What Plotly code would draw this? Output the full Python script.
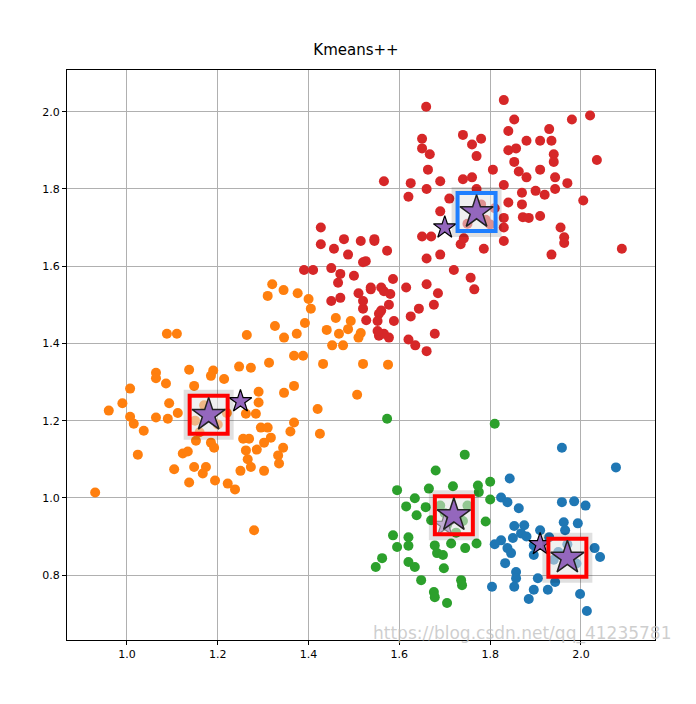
import plotly.graph_objects as go

# cluster points (x, y)
red_x = [1.659, 1.83, 1.853, 1.98, 2.02, 1.65, 1.74, 1.78, 1.84, 1.88, 1.91, 1.93, 1.935, 1.65, 1.667,
         1.76, 1.77, 1.84, 1.857, 1.94, 1.94, 2.035, 1.853, 1.806, 1.91, 1.663, 1.69, 1.74, 1.76, 1.863,
         1.88, 1.943, 1.97, 1.566, 1.625, 1.62, 1.66, 1.77, 1.83, 1.87, 1.90, 1.92, 1.943, 2.005, 1.71,
         1.84, 1.87, 1.83, 1.83, 1.872, 1.885, 1.91, 1.955, 1.963, 1.963, 2.09, 1.935, 1.83, 1.786, 1.735,
         1.742, 1.69, 1.65, 1.67, 1.69, 1.66, 1.72, 1.757, 1.765, 1.80, 1.545, 1.573, 1.526, 1.586, 1.615,
         1.66, 1.685, 1.643, 1.676, 1.625, 1.678, 1.62, 1.635, 1.66, 1.537, 1.56, 1.58, 1.52, 1.555,
         1.577, 1.588, 1.555, 1.577, 1.427, 1.427, 1.478, 1.515, 1.545, 1.456, 1.487, 1.39, 1.41, 1.45,
         1.47, 1.465, 1.50, 1.52, 1.51, 1.537, 1.566, 1.45, 1.47, 1.52, 1.56, 1.527, 1.552, 1.566, 1.552,
         1.79, 1.81, 1.75, 1.78]
red_y = [2.013, 2.03, 1.98, 1.98, 1.99, 1.93, 1.94, 1.93, 1.95, 1.925, 1.925, 1.955, 1.925, 1.905, 1.89,
         1.915, 1.885, 1.90, 1.905, 1.89, 1.87, 1.875, 1.87, 1.85, 1.85, 1.85, 1.82, 1.825, 1.83, 1.845,
         1.83, 1.83, 1.815, 1.82, 1.815, 1.78, 1.80, 1.80, 1.81, 1.79, 1.795, 1.785, 1.80, 1.77, 1.775,
         1.765, 1.76, 1.725, 1.70, 1.727, 1.725, 1.73, 1.70, 1.675, 1.66, 1.645, 1.63, 1.665, 1.645, 1.657,
         1.672, 1.742, 1.677, 1.677, 1.63, 1.62, 1.59, 1.57, 1.54, 1.708, 1.665, 1.64, 1.613, 1.567, 1.545,
         1.553, 1.53, 1.49, 1.50, 1.47, 1.425, 1.41, 1.395, 1.38, 1.545, 1.545, 1.528, 1.49, 1.477,
         1.50, 1.458, 1.42, 1.415, 1.70, 1.657, 1.67, 1.665, 1.67, 1.645, 1.63, 1.59, 1.59, 1.595,
         1.58, 1.557, 1.575, 1.61, 1.53, 1.54, 1.535, 1.51, 1.518, 1.51, 1.485, 1.46, 1.458, 1.425, 1.432,
         1.72, 1.75, 1.71, 1.76]

orange_x = [1.32, 1.345, 1.31, 1.376, 1.40, 1.405, 1.326, 1.346, 1.374, 1.392, 1.44, 1.46, 1.493, 1.487,
            1.467, 1.515, 1.51, 1.452, 1.476, 1.52, 1.575, 1.432, 1.507, 1.088, 1.11, 1.264, 1.368, 1.388,
            1.313, 1.247, 1.273, 1.19, 1.137, 1.064, 1.064, 1.185, 1.214, 1.086, 1.148, 1.368, 1.346, 1.29,
            1.007, 1.29, 0.99, 1.093, 0.96, 1.42, 1.112, 1.007, 1.064, 1.09, 1.015, 1.262, 1.284, 1.368,
            1.037, 1.295, 1.31, 1.36, 1.425, 1.317, 1.302, 1.256, 1.269, 1.185, 1.192, 1.152, 1.344, 1.286,
            1.262, 1.333, 1.024, 1.123, 1.134, 1.266, 1.273, 1.335, 1.302, 1.25, 1.148, 1.174, 1.167, 1.104,
            1.137, 1.194, 1.222, 1.238, 0.93, 1.28, 1.15, 1.20, 1.17, 1.22, 1.16]
orange_y = [1.553, 1.538, 1.523, 1.53, 1.515, 1.49, 1.445, 1.415, 1.425, 1.453, 1.435, 1.466, 1.458, 1.437,
            1.425, 1.427, 1.415, 1.395, 1.395, 1.347, 1.345, 1.347, 1.267, 1.425, 1.425, 1.422, 1.368, 1.368,
            1.35, 1.34, 1.337, 1.33, 1.332, 1.324, 1.31, 1.316, 1.308, 1.296, 1.29, 1.29, 1.272, 1.275,
            1.283, 1.247, 1.245, 1.245, 1.226, 1.23, 1.22, 1.21, 1.208, 1.205, 1.192, 1.218, 1.218, 1.195,
            1.174, 1.182, 1.182, 1.172, 1.166, 1.156, 1.143, 1.153, 1.153, 1.143, 1.13, 1.148, 1.13, 1.125,
            1.123, 1.11, 1.112, 1.115, 1.12, 1.10, 1.08, 1.089, 1.07, 1.07, 1.08, 1.08, 1.063, 1.074,
            1.04, 1.045, 1.037, 1.022, 1.014, 0.916, 1.20, 1.19, 1.24, 1.22, 1.17]

green_x = [1.573, 1.81, 1.744, 1.68, 1.595, 1.665, 1.718, 1.773, 1.80, 1.775, 1.634, 1.615, 1.658, 1.69,
           1.80, 1.75, 1.638, 1.67, 1.79, 1.586, 1.62, 1.62, 1.595, 1.678, 1.714, 1.745, 1.77, 1.683,
           1.696, 1.562, 1.548, 1.62, 1.634, 1.698, 1.648, 1.736, 1.738, 1.676, 1.678, 1.705, 1.70, 1.74,
           1.705, 1.725]
green_y = [1.205, 1.192, 1.112, 1.071, 1.02, 1.024, 1.03, 1.032, 1.042, 1.015, 0.999, 0.978, 0.976, 0.98,
           0.996, 0.98, 0.955, 0.942, 0.939, 0.903, 0.898, 0.876, 0.873, 0.877, 0.882, 0.87, 0.882, 0.857,
           0.852, 0.844, 0.821, 0.834, 0.821, 0.818, 0.787, 0.787, 0.774, 0.756, 0.743, 0.728, 0.96, 0.94,
           0.93, 0.91]

blue_x = [1.958, 2.077, 1.843, 1.824, 1.838, 1.863, 1.958, 1.985, 2.01, 1.853, 1.875, 1.868, 1.85, 1.824,
          1.838, 1.846, 1.91, 1.93, 1.962, 1.965, 1.993, 1.896, 1.896, 2.03, 2.042, 1.833, 1.857, 1.857,
          1.905, 1.943, 1.804, 1.853, 1.896, 1.927, 1.885, 1.998, 2.013, 1.95, 1.99, 1.97, 1.94, 1.88, 1.81]
blue_y = [1.13, 1.079, 1.05, 1.001, 0.989, 0.973, 0.989, 0.991, 0.98, 0.927, 0.929, 0.908, 0.896, 0.89,
          0.87, 0.857, 0.916, 0.898, 0.937, 0.916, 0.934, 0.877, 0.852, 0.87, 0.847, 0.831, 0.808, 0.792,
          0.792, 0.782, 0.77, 0.77, 0.762, 0.762, 0.738, 0.751, 0.707, 0.86, 0.83, 0.88, 0.84, 0.90, 0.88]

# initial centers (small stars) and final centers (big stars in boxes)
init_x = [1.70, 1.25, 1.91, 1.70]
init_y = [1.70, 1.25, 0.88, 0.93]
final_x = [1.77, 1.18, 1.72, 1.97]
final_y = [1.74, 1.215, 0.955, 0.845]
box_colors = ["#1f7fff", "#ff0000", "#ff0000", "#ff0000"]

fig = go.Figure()
for xs, ys, c in [(blue_x, blue_y, "#1f77b4"), (orange_x, orange_y, "#ff7f0e"),
                  (green_x, green_y, "#2ca02c"), (red_x, red_y, "#d62728")]:
    fig.add_trace(go.Scatter(x=xs, y=ys, mode="markers",
                             marker=dict(size=10, color=c, line=dict(width=0))))

fig.add_trace(go.Scatter(x=init_x, y=init_y, mode="markers",
                         marker=dict(symbol="star", size=17, color="#9467bd",
                                     line=dict(width=1.2, color="black"))))
# soft shadow behind the boxes
fig.add_trace(go.Scatter(x=final_x, y=final_y, mode="markers",
                         marker=dict(symbol="square", size=50, color="rgba(0,0,0,0.12)",
                                     line=dict(width=0))))
fig.add_trace(go.Scatter(x=final_x, y=final_y, mode="markers",
                         marker=dict(symbol="square", size=38, color="rgba(255,255,255,0.5)",
                                     line=dict(width=4, color=box_colors))))
fig.add_trace(go.Scatter(x=final_x, y=final_y, mode="markers",
                         marker=dict(symbol="star", size=25, color="#9467bd",
                                     line=dict(width=1.5, color="#222"))))

fig.add_annotation(text="https://blog.csdn.net/qq_41235781", xref="paper", yref="paper",
                   x=1.03, y=-0.01, xanchor="right", yanchor="bottom", showarrow=False,
                   font=dict(size=17, color="rgba(190,190,190,0.75)"))

fig.update_layout(
    width=696, height=704,
    title=dict(text="Kmeans++", x=0.5, xanchor="center", yref="container", y=0.94,
               yanchor="middle", font=dict(size=15, color="black")),
    font=dict(family="DejaVu Sans", size=11, color="black"),
    showlegend=False,
    plot_bgcolor="white", paper_bgcolor="white",
    margin=dict(l=59, r=49, t=62, b=72),
)
axis_style = dict(showgrid=True, gridcolor="#b0b0b0", gridwidth=1, zeroline=False,
                  showline=True, linecolor="black", linewidth=1, mirror=True,
                  ticks="outside", ticklen=4, tickcolor="black")
fig.update_xaxes(range=[0.868, 2.163], tickvals=[1.0, 1.2, 1.4, 1.6, 1.8, 2.0],
                 tickformat=".1f", **axis_style)
fig.update_yaxes(range=[0.632, 2.108], tickvals=[0.8, 1.0, 1.2, 1.4, 1.6, 1.8, 2.0],
                 tickformat=".1f", **axis_style)

fig.write_html("out.html")
